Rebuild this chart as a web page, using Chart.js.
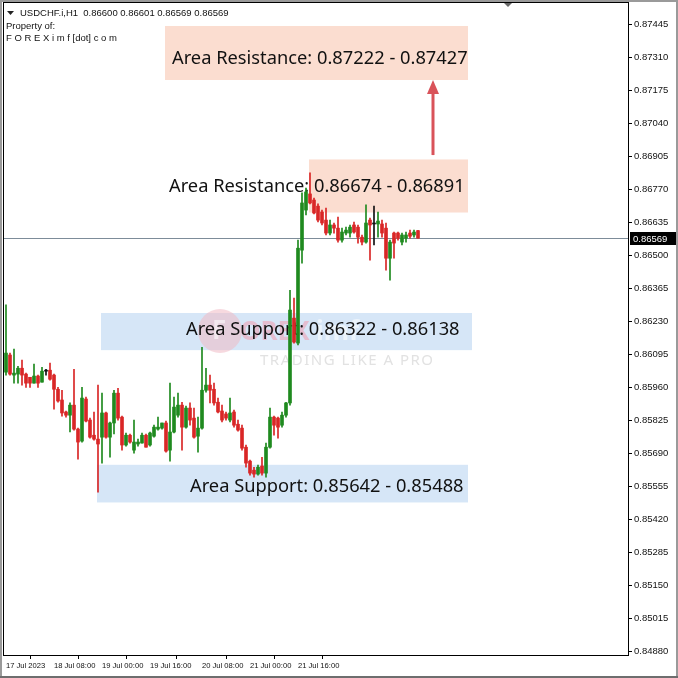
<!DOCTYPE html>
<html lang="en">
<head>
<meta charset="UTF-8">
<title>USDCHF.i H1</title>
<script src="https://cdn.jsdelivr.net/npm/chart.js"></script>
<style>
  html, body { margin: 0; padding: 0; background: #fff; }
  #wrap { width: 678px; height: 678px; }
</style>
</head>
<body>
<div id="wrap"><canvas id="fxChart" width="678" height="678"></canvas></div>
<script>
// H1 candles, 17 Jul - 21 Jul 2023
const opens = [
  0.86021, 0.86091, 0.86009, 0.86013, 0.86037, 0.86013, 0.86000, 0.85976, 0.86005, 0.85980,
  0.86025, 0.86029, 0.86009, 0.85951, 0.85907, 0.85858, 0.85845, 0.85886, 0.85788, 0.85739,
  0.85911, 0.85825, 0.85763, 0.85747, 0.85755, 0.85854, 0.85755, 0.85813, 0.85935, 0.85837,
  0.85723, 0.85763, 0.85702, 0.85727, 0.85731, 0.85763, 0.85723, 0.85759, 0.85788, 0.85792,
  0.85813, 0.85702, 0.85776, 0.85845, 0.85886, 0.85796, 0.85874, 0.85833, 0.85759, 0.85792,
  0.85947, 0.85968, 0.85951, 0.85898, 0.85862, 0.85850, 0.85825, 0.85858, 0.85808, 0.85792,
  0.85714, 0.85657, 0.85620, 0.85604, 0.85637, 0.85608, 0.85714, 0.85837, 0.85833, 0.85804,
  0.85845, 0.85895, 0.86242, 0.86140, 0.86520, 0.86684, 0.86750, 0.86725, 0.86700, 0.86676,
  0.86643, 0.86590, 0.86623, 0.86610, 0.86561, 0.86590, 0.86590, 0.86623, 0.86614, 0.86573,
  0.86553, 0.86643, 0.86627, 0.86627, 0.86627, 0.86610, 0.86487, 0.86590, 0.86590, 0.86553,
  0.86569, 0.86590, 0.86582, 0.86600
];
const highs = [
  0.86296, 0.86099, 0.86115, 0.86045, 0.86070, 0.86017, 0.86000, 0.86054, 0.86009, 0.86041,
  0.86033, 0.86058, 0.86013, 0.85959, 0.85947, 0.85862, 0.85895, 0.86033, 0.85792, 0.85959,
  0.85919, 0.85833, 0.85858, 0.85968, 0.85935, 0.85858, 0.85817, 0.85947, 0.85955, 0.85841,
  0.85772, 0.85768, 0.85825, 0.85747, 0.85772, 0.85768, 0.85776, 0.85804, 0.85837, 0.85813,
  0.85821, 0.85976, 0.85919, 0.85935, 0.85898, 0.85882, 0.85895, 0.85874, 0.85837, 0.86123,
  0.86037, 0.86009, 0.85976, 0.85915, 0.85886, 0.85858, 0.85915, 0.85866, 0.85825, 0.85804,
  0.85723, 0.85661, 0.85632, 0.85641, 0.85673, 0.85731, 0.85874, 0.85841, 0.85837, 0.85858,
  0.85898, 0.86356, 0.86324, 0.86561, 0.86754, 0.86774, 0.86836, 0.86733, 0.86709, 0.86684,
  0.86692, 0.86643, 0.86631, 0.86655, 0.86610, 0.86614, 0.86623, 0.86635, 0.86623, 0.86582,
  0.86705, 0.86651, 0.86700, 0.86676, 0.86643, 0.86631, 0.86561, 0.86594, 0.86594, 0.86590,
  0.86594, 0.86602, 0.86602, 0.86601
];
const lows = [
  0.86009, 0.86009, 0.85976, 0.85976, 0.85968, 0.85959, 0.85959, 0.85976, 0.85959, 0.85980,
  0.86009, 0.85988, 0.85870, 0.85898, 0.85841, 0.85837, 0.85776, 0.85784, 0.85665, 0.85735,
  0.85817, 0.85751, 0.85743, 0.85530, 0.85649, 0.85751, 0.85673, 0.85768, 0.85825, 0.85702,
  0.85718, 0.85731, 0.85690, 0.85718, 0.85731, 0.85714, 0.85718, 0.85755, 0.85784, 0.85788,
  0.85694, 0.85657, 0.85772, 0.85837, 0.85702, 0.85792, 0.85804, 0.85751, 0.85694, 0.85788,
  0.85939, 0.85895, 0.85886, 0.85854, 0.85817, 0.85825, 0.85817, 0.85796, 0.85780, 0.85702,
  0.85632, 0.85600, 0.85591, 0.85600, 0.85600, 0.85591, 0.85710, 0.85763, 0.85751, 0.85796,
  0.85837, 0.85886, 0.86140, 0.86132, 0.86467, 0.86664, 0.86709, 0.86668, 0.86635, 0.86623,
  0.86582, 0.86582, 0.86590, 0.86553, 0.86553, 0.86582, 0.86573, 0.86590, 0.86549, 0.86541,
  0.86549, 0.86479, 0.86541, 0.86573, 0.86573, 0.86438, 0.86397, 0.86487, 0.86561, 0.86541,
  0.86553, 0.86569, 0.86573, 0.86569
];
const closes = [
  0.86099, 0.86013, 0.86017, 0.86037, 0.86009, 0.85976, 0.85976, 0.86005, 0.85976, 0.86025,
  0.86025, 0.85992, 0.85951, 0.85903, 0.85854, 0.85845, 0.85886, 0.85788, 0.85735, 0.85915,
  0.85821, 0.85755, 0.85747, 0.85727, 0.85854, 0.85755, 0.85813, 0.85935, 0.85833, 0.85723,
  0.85763, 0.85735, 0.85735, 0.85735, 0.85763, 0.85714, 0.85772, 0.85796, 0.85796, 0.85813,
  0.85698, 0.85776, 0.85878, 0.85886, 0.85796, 0.85874, 0.85825, 0.85755, 0.85792, 0.85947,
  0.85968, 0.85947, 0.85895, 0.85858, 0.85825, 0.85833, 0.85854, 0.85804, 0.85784, 0.85710,
  0.85649, 0.85608, 0.85604, 0.85632, 0.85608, 0.85714, 0.85837, 0.85804, 0.85796, 0.85845,
  0.85895, 0.86275, 0.86144, 0.86528, 0.86713, 0.86758, 0.86713, 0.86672, 0.86643, 0.86631,
  0.86590, 0.86623, 0.86610, 0.86561, 0.86594, 0.86602, 0.86614, 0.86594, 0.86573, 0.86553,
  0.86631, 0.86623, 0.86627, 0.86639, 0.86590, 0.86487, 0.86553, 0.86549, 0.86569, 0.86582,
  0.86582, 0.86577, 0.86594, 0.86569
];

const slotCount = 156;   // bars visible incl. empty space on the right
const priceMin = 0.84864;
const priceMax = 0.87531;
const priceTicks = [
  0.84880, 0.85015, 0.85150, 0.85285, 0.85420, 0.85555, 0.85690, 0.85825, 0.85960, 0.86095,
  0.86230, 0.86365, 0.86500, 0.86635, 0.86770, 0.86905, 0.87040, 0.87175, 0.87310, 0.87445
];
const timeTickIdx = [0, 12, 24, 36, 49, 61, 73];
const timeTickText = ['17 Jul 2023', '18 Jul 08:00', '19 Jul 00:00', '19 Jul 16:00', '20 Jul 08:00', '21 Jul 00:00', '21 Jul 16:00'];

// support / resistance zones
const zoneText = ['Area Resistance: 0.87222 - 0.87427', 'Area Resistance: 0.86674 - 0.86891', 'Area Support: 0.86322 - 0.86138', 'Area Support: 0.85642 - 0.85488'];
const zoneTop = [0.87437, 0.86891, 0.86263, 0.85642];
const zoneBottom = [0.87216, 0.86674, 0.86111, 0.85488];
const zoneFrom = [39.75, 75.75, 23.75, 22.75];
const zoneTo = [115.5, 115.5, 116.5, 115.5];
const zoneIsSupport = [false, false, true, true];
const labelFrom = [41.5, 40.75, 45, 46];
const labelPrice = [0.87302, 0.86778, 0.86193, 0.85551];

const arrowIdx = 106.75;
const arrowFrom = 0.86909;
const arrowTo = 0.87216;

const headerText = 'USDCHF.i,H1  0.86600 0.86601 0.86569 0.86569';

const bullColor = '#1f8a1f';
const bearColor = '#d92626';
const categories = Array.from({ length: slotCount }, (_, i) => String(i));

function candleColor(i) {
  if (opens[i] === closes[i]) return '#111';
  return closes[i] > opens[i] ? bullColor : bearColor;
}
const colors = opens.map((o, i) => candleColor(i));

const overlays = {
  id: 'overlays',
  beforeDraw(chart) {
    const c = chart.ctx;
    c.save();
    c.fillStyle = '#fff';
    c.fillRect(0, 0, chart.width, chart.height);
    c.restore();
  },
  beforeDatasetsDraw(chart) {
    const c = chart.ctx, x = chart.scales.x, y = chart.scales.y, a = chart.chartArea;
    c.save();
    // zones
    zoneText.forEach((t, i) => {
      const x0 = x.getPixelForValue(zoneFrom[i]), x1 = x.getPixelForValue(zoneTo[i]);
      const y0 = y.getPixelForValue(zoneTop[i]), y1 = y.getPixelForValue(zoneBottom[i]);
      c.fillStyle = zoneIsSupport[i] ? '#d6e6f7' : '#fbddd0';
      c.fillRect(x0, y0, x1 - x0, y1 - y0);
    });
    // watermark
    const wx = a.left + 216, wy = a.top + 328;
    c.globalAlpha = 0.55;
    c.fillStyle = '#f0b9c4';
    c.beginPath(); c.arc(wx, wy, 22, 0, Math.PI * 2); c.fill();
    c.fillStyle = '#fff';
    c.font = 'bold 26px "Noto Sans"';
    c.textBaseline = 'middle';
    c.fillText('F', wx - 8, wy + 1);
    c.fillStyle = '#f09aae';
    c.fillText('OREX', wx + 20, wy + 2);
    c.fillStyle = '#fff';
    c.fillText('imf', wx + 96, wy + 2);
    c.globalAlpha = 1;
    c.fillStyle = '#e2e2e2';
    c.font = '15px "Noto Sans"';
    c.letterSpacing = '1.5px';
    c.fillText('TRADING LIKE A PRO', wx + 40, wy + 30);
    c.letterSpacing = '0px';
    // current price line
    const py = Math.round(y.getPixelForValue(closes[closes.length - 1])) + 0.5;
    c.strokeStyle = '#7d8c99';
    c.lineWidth = 1;
    c.beginPath(); c.moveTo(a.left, py); c.lineTo(a.right, py); c.stroke();
    // zone labels
    c.fillStyle = '#111';
    c.font = '18.3px "Noto Sans"';
    c.textBaseline = 'middle';
    c.textAlign = 'left';
    zoneText.forEach((t, i) => {
      c.fillText(t, x.getPixelForValue(labelFrom[i]), y.getPixelForValue(labelPrice[i]));
    });
    c.restore();
  },
  afterDatasetsDraw(chart) {
    const c = chart.ctx, x = chart.scales.x, y = chart.scales.y, a = chart.chartArea;
    c.save();
    // arrow
    const ax = x.getPixelForValue(arrowIdx);
    const ay0 = y.getPixelForValue(arrowFrom), ay1 = y.getPixelForValue(arrowTo);
    c.strokeStyle = '#d9535a';
    c.fillStyle = '#d9535a';
    c.lineWidth = 3;
    c.beginPath(); c.moveTo(ax, ay0); c.lineTo(ax, ay1 + 12); c.stroke();
    c.beginPath(); c.moveTo(ax, ay1); c.lineTo(ax - 6, ay1 + 14); c.lineTo(ax + 6, ay1 + 14); c.closePath(); c.fill();
    // header
    c.fillStyle = '#111';
    c.font = '9.5px "Liberation Sans"';
    c.textBaseline = 'middle';
    c.fillText(headerText, a.left + 16, a.top + 10);
    c.fillText('Property of:', a.left + 2, a.top + 23);
    c.fillText('F O R E X i m f [dot] c o m', a.left + 2, a.top + 35);
    c.fillStyle = '#222';
    c.beginPath(); c.moveTo(a.left + 3, a.top + 8); c.lineTo(a.left + 10, a.top + 8); c.lineTo(a.left + 6.5, a.top + 12); c.closePath(); c.fill();
    // little dropdown marker on top edge
    c.fillStyle = '#666';
    c.beginPath(); c.moveTo(a.left + 498, a.top - 2); c.lineTo(a.left + 510, a.top - 2); c.lineTo(a.left + 504, a.top + 4); c.closePath(); c.fill();
    // chart box
    c.strokeStyle = '#000';
    c.lineWidth = 1;
    c.strokeRect(Math.round(a.left) - 0.5, Math.round(a.top) - 0.5, Math.round(a.right - a.left) + 1, Math.round(a.bottom - a.top) + 1);
    c.restore();
  },
  afterDraw(chart) {
    const c = chart.ctx, y = chart.scales.y, a = chart.chartArea;
    c.save();
    // last price tag
    const last = closes[closes.length - 1];
    const py = Math.round(y.getPixelForValue(last));
    c.fillStyle = '#000';
    c.fillRect(a.right + 2, py - 6, 46, 13);
    c.fillStyle = '#fff';
    c.font = '9.5px "Liberation Sans"';
    c.textBaseline = 'middle';
    c.fillText(last.toFixed(5), a.right + 5, py + 1);
    // window frame
    c.strokeStyle = '#9a9a9a';
    c.lineWidth = 2;
    c.strokeRect(1, 1, chart.width - 2, chart.height - 2);
    c.fillStyle = '#6e6e6e';
    c.fillRect(0, chart.height - 2, chart.width, 2);
    c.restore();
  }
};

new Chart(document.getElementById('fxChart'), {
  type: 'bar',
  data: {
    labels: categories,
    datasets: [
      {
        label: 'wick',
        data: lows.map((l, i) => [l, highs[i]]),
        backgroundColor: colors,
        barThickness: 1,
        grouped: false,
        order: 1
      },
      {
        label: 'body',
        data: opens.map((o, i) => [o, closes[i]]),
        backgroundColor: colors,
        barThickness: 3,
        minBarLength: 1,
        grouped: false,
        order: 0
      }
    ]
  },
  options: {
    responsive: false,
    animation: false,
    layout: { padding: { left: 4, top: 3, right: 0, bottom: 0 } },
    plugins: { legend: { display: false }, tooltip: { enabled: false } },
    scales: {
      x: {
        offset: true,
        grid: { drawOnChartArea: false, tickLength: 4, color: '#000' },
        border: { display: true, color: '#000' },
        ticks: {
          autoSkip: false, maxRotation: 0, align: 'start', padding: 2,
          color: '#111', font: { family: 'Liberation Sans', size: 7.6 },
          callback: (v, i) => timeTickText[i]
        },
        afterBuildTicks: s => { s.ticks = timeTickIdx.map(v => ({ value: v })); },
        afterFit: s => { s.height = 23; s.paddingLeft = 0; s.paddingRight = 0; }
      },
      y: {
        position: 'right',
        min: priceMin,
        max: priceMax,
        grid: { drawOnChartArea: false, tickLength: 4, color: '#000' },
        border: { display: true, color: '#000' },
        ticks: {
          padding: 2, color: '#111', font: { family: 'Liberation Sans', size: 9.5 },
          callback: v => v.toFixed(5)
        },
        afterBuildTicks: s => { s.ticks = priceTicks.map(v => ({ value: v })); },
        afterFit: s => { s.width = 50; s.paddingTop = 0; s.paddingBottom = 0; }
      }
    }
  },
  plugins: [overlays]
});
</script>
</body>
</html>
